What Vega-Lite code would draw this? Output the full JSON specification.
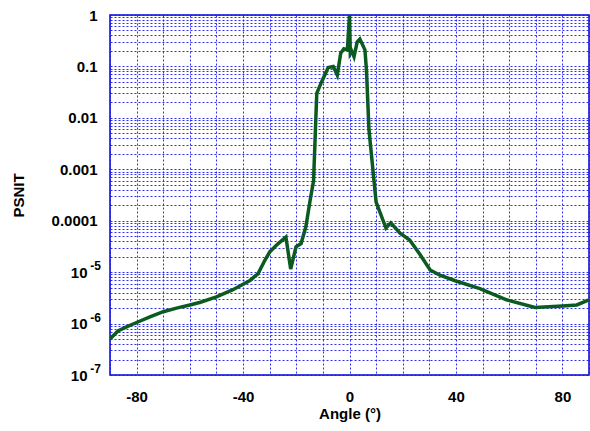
{
  "$schema": "https://vega.github.io/schema/vega-lite/v6.json",
  "width": 479,
  "height": 360,
  "autosize": {"type": "none"},
  "padding": {"left": 110, "top": 15, "right": 1, "bottom": 56},
  "background": "white",
  "config": {
    "view": {"stroke": "#0000dd", "strokeWidth": 1.5},
    "font": "Liberation Sans"
  },
  "encoding": {
    "x": {
      "field": "angle",
      "type": "quantitative",
      "scale": {"domain": [-90, 90], "nice": false, "zero": false},
      "axis": {
        "title": "Angle (°)",
        "titleFont": "Liberation Sans",
        "titleFontSize": 15,
        "titleFontWeight": "bold",
        "titleY": 38,
        "titleBaseline": "middle",
        "values": [-90, -80, -70, -60, -50, -40, -30, -20, -10, 0, 10, 20, 30, 40, 50, 60, 70, 80, 90],
        "labelExpr": "datum.value % 40 == 0 ? toString(datum.value) : ''",
        "labelFont": "Liberation Sans",
        "labelFontSize": 15,
        "labelFontWeight": "bold",
        "labelColor": "black",
        "labelPadding": 14,
        "labelOverlap": false,
        "ticks": false,
        "domain": false,
        "grid": true,
        "gridColor": "#1a1aee",
        "gridDash": [2, 2],
        "gridOpacity": 0.9,
        "gridWidth": 1
      }
    },
    "y": {
      "field": "psnit",
      "type": "quantitative",
      "scale": {"type": "log", "domain": [1e-7, 1], "nice": false},
      "axis": {
        "title": "PSNIT",
        "titleFont": "Liberation Sans",
        "titleFontSize": 15,
        "titleFontWeight": "bold",
        "titleX": -92,
        "titleBaseline": "middle",
        "titleAngle": -90,
        "values": [1e-7, 2e-7, 3e-7, 4e-7, 5e-7, 6e-7, 7e-7, 8e-7, 9e-7, 1e-6, 2e-6, 3e-6, 4e-6, 5e-6, 6e-6, 7e-6, 8e-6, 9e-6, 1e-5, 2e-5, 3e-5, 4e-5, 5e-5, 6e-5, 7e-5, 8e-5, 9e-5, 0.0001, 0.0002, 0.0003, 0.0004, 0.0005, 0.0006, 0.0007, 0.0008, 0.0009, 0.001, 0.002, 0.003, 0.004, 0.005, 0.006, 0.007, 0.008, 0.009, 0.01, 0.02, 0.03, 0.04, 0.05, 0.06, 0.07, 0.08, 0.09, 0.1, 0.2, 0.3, 0.4, 0.5, 0.6, 0.7, 0.8, 0.9, 1],
        "labelExpr": "datum.value == 1 ? '1' : datum.value == 0.1 ? '0.1' : datum.value == 0.01 ? '0.01' : datum.value == 0.001 ? '0.001' : datum.value == 0.0001 ? '0.0001' : (datum.value == 1e-5 || datum.value == 1e-6 || datum.value == 1e-7) ? '10' : ''",
        "labelFont": "Liberation Sans",
        "labelFontSize": 15,
        "labelFontWeight": "bold",
        "labelColor": "black",
        "labelPadding": {"condition": {"test": "datum.value == 1e-5 || datum.value == 1e-6 || datum.value == 1e-7", "value": 23}, "value": 13},
        "labelOverlap": false,
        "ticks": false,
        "domain": false,
        "grid": true,
        "gridColor": "#1a1aee",
        "gridDash": [2, 2],
        "gridOpacity": 0.9,
        "gridWidth": 1
      }
    }
  },
  "layer": [
    {
      "data": {
        "values": [
          {"angle": -90, "psnit": 5e-7},
          {"angle": -87, "psnit": 7.2e-7},
          {"angle": -84, "psnit": 8.5e-7},
          {"angle": -80, "psnit": 1.05e-6},
          {"angle": -75, "psnit": 1.35e-6},
          {"angle": -70, "psnit": 1.7e-6},
          {"angle": -65, "psnit": 2.0e-6},
          {"angle": -60, "psnit": 2.3e-6},
          {"angle": -56, "psnit": 2.6e-6},
          {"angle": -50, "psnit": 3.3e-6},
          {"angle": -44, "psnit": 4.5e-6},
          {"angle": -37.4, "psnit": 6.9e-6},
          {"angle": -34.4, "psnit": 9.3e-6},
          {"angle": -31.8, "psnit": 1.7e-5},
          {"angle": -29.9, "psnit": 2.5e-5},
          {"angle": -26.8, "psnit": 3.6e-5},
          {"angle": -23.9, "psnit": 4.8e-5},
          {"angle": -22.1, "psnit": 1.15e-5},
          {"angle": -20.1, "psnit": 3.1e-5},
          {"angle": -18.2, "psnit": 3.6e-5},
          {"angle": -16.4, "psnit": 7.6e-5},
          {"angle": -14.8, "psnit": 2.5e-4},
          {"angle": -13.5, "psnit": 6e-4},
          {"angle": -12.8, "psnit": 0.006},
          {"angle": -12.3, "psnit": 0.03},
          {"angle": -10.5, "psnit": 0.05},
          {"angle": -8, "psnit": 0.095},
          {"angle": -6.1, "psnit": 0.1},
          {"angle": -4.6, "psnit": 0.068},
          {"angle": -3.3, "psnit": 0.18},
          {"angle": -2.1, "psnit": 0.22},
          {"angle": -0.8, "psnit": 0.21},
          {"angle": 0, "psnit": 1},
          {"angle": 0.3, "psnit": 0.18},
          {"angle": 0.8, "psnit": 0.2},
          {"angle": 1.7, "psnit": 0.155},
          {"angle": 2.9, "psnit": 0.3},
          {"angle": 3.9, "psnit": 0.34},
          {"angle": 5.8, "psnit": 0.21},
          {"angle": 6.4, "psnit": 0.08},
          {"angle": 7.3, "psnit": 0.006},
          {"angle": 10, "psnit": 2.3e-4},
          {"angle": 13.7, "psnit": 7.2e-5},
          {"angle": 15.5, "psnit": 9.1e-5},
          {"angle": 19, "psnit": 5.7e-5},
          {"angle": 22.6, "psnit": 4.2e-5},
          {"angle": 26.5, "psnit": 2.2e-5},
          {"angle": 30.3, "psnit": 1.1e-5},
          {"angle": 34, "psnit": 8.7e-6},
          {"angle": 39.7, "psnit": 6.8e-6},
          {"angle": 49, "psnit": 4.8e-6},
          {"angle": 59, "psnit": 2.9e-6},
          {"angle": 69.7, "psnit": 2.05e-6},
          {"angle": 80, "psnit": 2.2e-6},
          {"angle": 85.4, "psnit": 2.3e-6},
          {"angle": 90, "psnit": 2.9e-6}
        ]
      },
      "mark": {"type": "line", "color": "#0b5a1f", "strokeWidth": 3.5, "clip": true}
    },
    {
      "data": {
        "values": [
          {"angle": -90, "psnit": 1e-5, "exponent": "-5"},
          {"angle": -90, "psnit": 1e-6, "exponent": "-6"},
          {"angle": -90, "psnit": 1e-7, "exponent": "-7"}
        ]
      },
      "mark": {
        "type": "text",
        "align": "right",
        "baseline": "middle",
        "dx": -9,
        "dy": -6,
        "font": "Liberation Sans",
        "fontSize": 12,
        "fontWeight": "bold",
        "color": "black"
      },
      "encoding": {
        "text": {"field": "exponent"}
      }
    }
  ]
}
